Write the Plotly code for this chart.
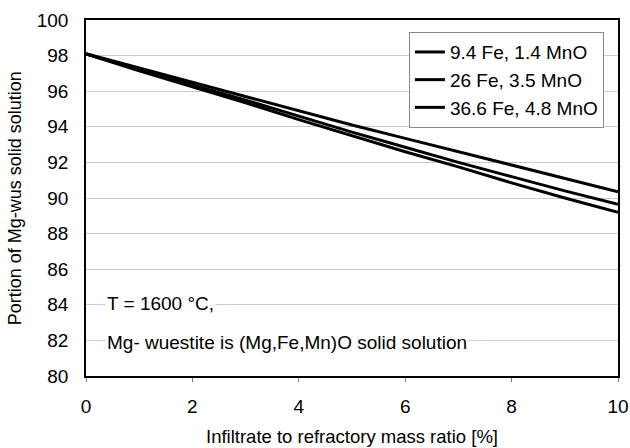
import plotly.graph_objects as go

x_vals = [0, 1, 2, 3, 4, 5, 6, 7, 8, 9, 10]
series_names = ["9.4 Fe, 1.4 MnO", "26 Fe, 3.5 MnO", "36.6 Fe, 4.8 MnO"]
s1 = [98.1, 97.3, 96.5, 95.7, 94.9, 94.1, 93.35, 92.6, 91.85, 91.1, 90.35]
s2 = [98.1, 97.2, 96.35, 95.5, 94.6, 93.7, 92.85, 92.0, 91.2, 90.4, 89.65]
s3 = [98.1, 97.15, 96.25, 95.35, 94.4, 93.5, 92.6, 91.75, 90.85, 90.0, 89.2]
x_ticks = [0, 2, 4, 6, 8, 10]
y_ticks = [80, 82, 84, 86, 88, 90, 92, 94, 96, 98, 100]

fig = go.Figure()
for name, ys in zip(series_names, [s1, s2, s3]):
    fig.add_trace(go.Scatter(x=x_vals, y=ys, mode="lines", name=name,
                             line=dict(color="black", width=3)))

font = "Liberation Sans, Arial, sans-serif"
fig.update_layout(
    width=630, height=448,
    margin=dict(l=86, r=12, t=20, b=72),
    paper_bgcolor="white", plot_bgcolor="white",
    font=dict(family=font, size=19, color="black"),
    showlegend=True,
    legend=dict(x=0.607, y=0.966, xanchor="left", yanchor="top",
                bgcolor="white", bordercolor="#888888", borderwidth=1,
                font=dict(size=19, family=font), tracegroupgap=0,
                itemwidth=30),
    xaxis=dict(range=[0, 10], tickvals=x_ticks, showgrid=False,
               automargin=False,
               showline=True, linecolor="black", linewidth=1.5, mirror=True,
               ticks="outside", ticklen=4, tickcolor="#777",
               ticklabelstandoff=8,
               tickfont=dict(size=19), zeroline=False,
               title=dict(text="Infiltrate to refractory mass ratio [%]",
                          font=dict(size=18.5))),
    yaxis=dict(range=[80, 100], tickvals=y_ticks, showgrid=True,
               automargin=False,
               gridcolor="#c9c9d3", gridwidth=1,
               showline=True, linecolor="black", linewidth=1.5, mirror=True,
               ticks="", ticklabelstandoff=12,
               tickfont=dict(size=19), zeroline=False,
               title=dict(text="", font=dict(size=18))),
)

fig.add_annotation(x=-0.133, y=0.5, xref="paper", yref="paper", xanchor="center",
                   yanchor="middle", text="Portion of Mg-wus solid solution",
                   textangle=-90, showarrow=False, font=dict(size=18, family=font))
fig.add_annotation(x=0.035, y=84.1, xref="paper", yref="y", xanchor="left",
                   yanchor="middle", text="T = 1600 °C,", showarrow=False,
                   font=dict(size=19, family=font), bgcolor="white")
fig.add_annotation(x=0.035, y=81.9, xref="paper", yref="y", xanchor="left",
                   yanchor="middle", text="Mg- wuestite is (Mg,Fe,Mn)O solid solution",
                   showarrow=False, font=dict(size=19, family=font), bgcolor="white")

fig.write_html("out.html")
